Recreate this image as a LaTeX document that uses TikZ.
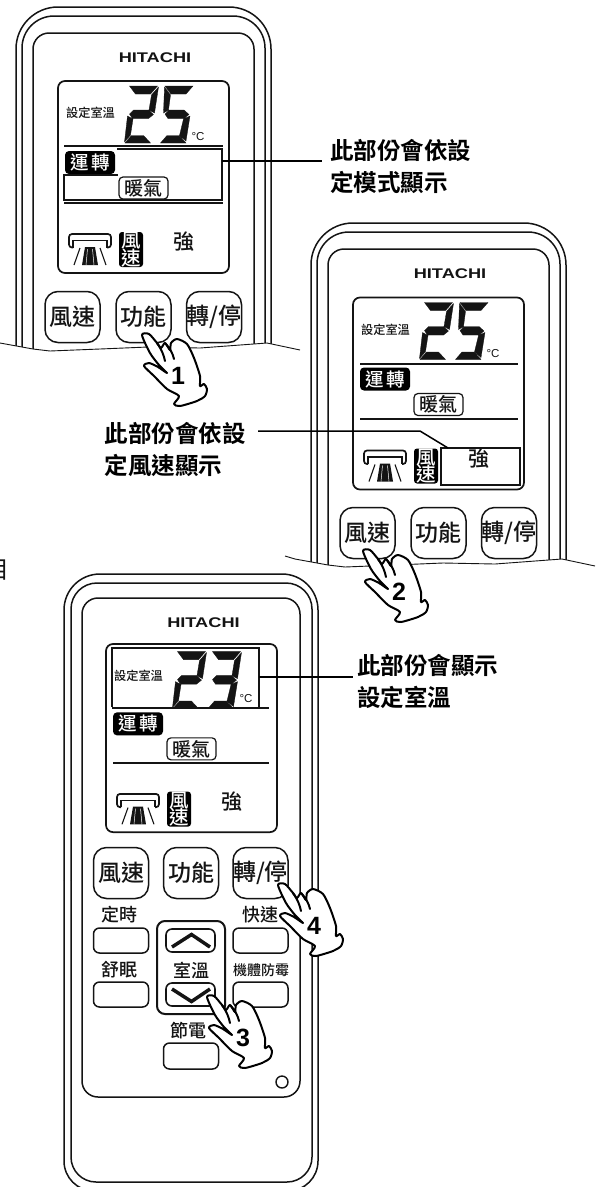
\documentclass[tikz,border=0pt]{standalone}
\usepackage{fontspec}
\usepackage{graphicx}
\setmainfont{Liberation Sans}
\newfontfamily\cjk{Noto Sans CJK TC Medium}
\newfontfamily\cjkr{Noto Sans CJK TC}
\newfontfamily\cjkb{Noto Sans CJK TC Bold}
\definecolor{ink}{HTML}{141414}
\newcommand\fs[1]{\fontsize{#1}{#1}\selectfont}
\newcommand\segA{(5,0)--(33,0)--(26,8)--(11,8)--cycle}
\newcommand\segB{(34,1)--(30,27)--(24.5,24)--(27,9)--cycle}
\newcommand\segC{(30,30)--(26,55)--(19.5,49.5)--(23.5,33)--cycle}
\newcommand\segD{(0.5,57)--(26,57)--(19,49.5)--(7,49.5)--cycle}
\newcommand\segE{(3,30)--(8.5,33)--(6,49)--(0,56)--cycle}
\newcommand\segF{(4.5,1)--(10.5,9)--(8.5,24)--(3.5,27)--cycle}
\newcommand\segG{(5,28)--(9,24)--(24,24)--(29,28.5)--(24,32.5)--(8,32.5)--cycle}
\tikzset{
  body/.style={draw=ink,line width=1.5},
  seven/.style={fill=ink,draw=ink,line width=.3},
  cjkt/.style={inner sep=0,text=ink,font=\cjk\fs{#1}},
  rev/.style={inner sep=0,text=white,font=\cjk\fs{#1}},
  key/.style={draw=ink,line width=1.5,rounded corners=13,minimum width=55,minimum height=51,inner sep=0,text=ink,font=\cjk\fs{23}},
  flat/.style={draw=ink,line width=1.5,rounded corners=6,minimum width=55,minimum height=25,inner sep=0},
  callout/.style={font=\cjkb\fontsize{23.5}{32}\selectfont,align=left,text=black},
  lead/.style={draw=black,line width=1.5},
}
% LCD contents: #1 name prefix, #2 shift x, #3 shift y, #4 yscale
\newcommand\lcd[4]{%
\begin{scope}[shift={(#2,#3)},yscale=#4]
  \draw[body,line width=1.7,rounded corners=7] (58,81) rectangle (229,273);
  \node[cjkt=12.2] (#1set) at (90.5,113) {設定室溫};
  \node[inner sep=0,font=\fs{11.5},text=ink] (#1deg) at (198,137) {°C};
  \node[rev=18.5,fill=black,rounded corners=4,minimum width=50,minimum height=23] (#1run) at (90,162.5) {運\hspace{3pt}轉};
  \node[cjkt=19,draw=ink,line width=1.2,rounded corners=4,minimum width=49,minimum height=22] (#1heat) at (143.5,188) {暖氣};
  \draw[line width=1.7,draw=ink,rounded corners=3] (73,247.5)--(69,247.5)--(69,234)--(111,234)--(111,247.5)--(107,247.5);
  \draw[line width=1.1,draw=ink] (73,247.5)--(73,240.5)--(107,240.5)--(107,247.5);
  \fill[ink] (85,247)--(95,247)--(98,265)--(82,265)--cycle;
  \draw[line width=1.1,draw=ink] (80,248)--(74,265) (100,248)--(106,265);
  \draw[line width=.5,draw=white] (87.5,249)--(86,265) (92.5,249)--(94,265);
  \node[fill=black,rounded corners=3,minimum width=24,minimum height=35,inner sep=0] (#1fan) at (131,249.5) {};
  \node[rev=19.5] (#1fanA) at (131,241) {風};
  \node[rev=19.5] (#1fanB) at (131,258) {速};
  \node[cjkt=21] (#1str) at (184,242) {強};
\end{scope}}
\newcommand\remoteTop[3]{%
\begin{scope}[shift={(#2,#3)}]
  \draw[body,rounded corners=42] (16,385)--(16,7)--(271,7)--(271,385);
  \draw[body,rounded corners=32] (22,385)--(22,16)--(265,16)--(265,385);
  \draw[body,rounded corners=16] (33,385)--(33,33)--(254,33)--(254,385);
  \node[inner sep=0,font=\bfseries\fs{14},text=ink] (#1logo) at (155,58) {\scalebox{1.3}[1]{HITACHI}};
  \node[key] (#1fan) at (72.5,317) {風速};
  \node[key] (#1func) at (143.5,317) {功能};
  \node[key] (#1run) at (214,317) {轉/停};
  \fill[white] (-10,340)--(0,343)--(33,349)--(50,351)--(100,349)--(148,347)--(200,348)--(267,343)--(300,350)--(300,386)--(-10,386)--cycle;
  \draw[line width=.9,draw=ink] (-10,340)--(0,343)--(33,349)--(50,351)--(100,349)--(148,347)--(200,348)--(267,343)--(300,350);
\end{scope}}
\newcommand\twofive[2]{%
\begin{scope}[shift={(#1,#2)}]\filldraw[seven] \segA \segB \segG \segE \segD;\end{scope}
\begin{scope}[shift={(#1+35.5,#2)}]\filldraw[seven] \segA \segF \segG \segC \segD;\end{scope}}
\newcommand\twothree[2]{%
\begin{scope}[shift={(#1,#2)}]\filldraw[seven] \segA \segB \segG \segE \segD;\end{scope}
\begin{scope}[shift={(#1+35,#2)}]\filldraw[seven] \segA \segB \segG \segC \segD;\end{scope}}
\newcommand\hand[4]{%
\begin{scope}[shift={(#2,#3)}]
  \draw[line width=2,draw=black,fill=white,line join=round] plot[smooth cycle,tension=.45] coordinates {
    (0,-1)(7,-2)(15,7)(19,12)(23,7)(28,14)(29,7)(35,3)(45,8)(52,22)(58,40)(58,50)(62,48)(65,53)(63,60)(55,65)(38,70)(32,68)(37,60)(25,53)(12,40)(2,30)(7,27)(16,31)(25,37)(17,29)(8,17)};
  \draw[line width=2,draw=black,line cap=round] (15,7)..controls (20,14) and (22,20)..(23,25) (23,7)..controls (28,12) and (31,18)..(32,23);
  \node[inner sep=0,font=\bfseries\fs{25},text=black] (#1) at (36,40) {#4};
\end{scope}}
\begin{document}
\begin{tikzpicture}[x=1pt,y=-1pt]
\useasboundingbox (0,0) rectangle (602,1187);
\fill[white] (0,0) rectangle (602,1187);
% stray clipped glyph
\node[inner sep=0,text=ink,font=\cjkr\fs{24}] (edge) at (-2,570) {目};

% ---------- remote 1
\remoteTop{a}{0}{0}
\lcd{a}{0}{0}{1}
\twofive{124.5}{86}
\draw[line width=1.8,draw=ink] (64,146)--(223,146) (64,203)--(223,203);
\draw[draw=ink,line width=1.3] (117,149)--(222,149)--(222,200)--(64,200)--(64,175)--(118,175);
\coordinate (boxa) at (222,161);
\node[callout,anchor=west,inner ysep=0,inner xsep=8] (laba) at (322,166) {此部份會依設\\定模式顯示};
\draw[lead] (boxa) -- (boxa -| laba.west);

% ---------- remote 2
\remoteTop{b}{295}{216}
\lcd{b}{295}{216.5}{1}
\begin{scope}[shift={(295,216.5)}]\twofive{124.5}{86}\end{scope}
\draw[line width=1.5,draw=ink] (360,364)--(518,364) (360,419)--(518,419);
\node[draw=ink,line width=1.3,minimum width=79,minimum height=37,inner sep=0] (boxb) at (480.5,466.5) {};
\node[callout,anchor=east,inner ysep=0,inner xsep=12] (labb) at (258,450) {此部份會依設\\定風速顯示};
\coordinate (bendb) at (420,431);
\draw[lead] (bendb -| labb.east) -- (bendb) -- (448,448);

% ---------- remote 3
\draw[body,rounded corners=36] (64,880)--(64,574)--(318,574)--(318,880);
\draw[body,rounded corners=30] (64,880)--(64,1191)--(318,1191)--(318,880);
\draw[body,rounded corners=26] (71,880)--(71,583)--(312,583)--(312,880);
\draw[body,rounded corners=25] (71,880)--(71,1182)--(312,1182)--(312,880);
\draw[body,rounded corners=16] (82,1097)--(82,598)--(300,598)--(300,1097)--cycle;
\node[inner sep=0,font=\bfseries\fs{14},text=ink] (clogo) at (203.5,623) {\scalebox{1.3}[1]{HITACHI}};
\lcd{c}{48}{564.6}{0.98}
\begin{scope}[shift={(48,564.6)}]\twothree{124.5}{87}\end{scope}
\draw[line width=1.3,draw=ink] (112,707)--(112,648)--(259,648)--(259,707);
\draw[line width=1.8,draw=ink] (112,708)--(269,708);
\draw[line width=1.5,draw=ink] (113,763)--(269,763);
\coordinate (boxc) at (259,677);
\node[callout,anchor=west,inner ysep=0,inner xsep=4] (labc) at (353,681) {此部份會顯示\\設定室溫};
\draw[lead] (boxc) -- (boxc -| labc.west);

\node[key] (cfan) at (121,873) {風速};
\node[key] (cfunc) at (191,873) {功能};
\node[key] (crun) at (260.5,873) {轉/停};
\node[cjkt=18] (ctimer) at (119,915) {定時};
\node[cjkt=18] (cfast) at (260,915) {快速};
\node[cjkt=18] (csleep) at (119,970) {舒眠};
\node[cjkt=18] (ctemp) at (191,970) {室溫};
\node[cjkt=14] (cmold) at (261,970) {機體防霉};
\node[cjkt=18] (csave) at (188,1031) {節電};
\node[flat] (ktimer) at (121,940.5) {};
\node[flat] (kfast) at (260.5,940.5) {};
\node[flat] (ksleep) at (121,994.5) {};
\node[flat] (kmold) at (260.5,994.5) {};
\node[flat,minimum height=26] (ksave) at (191,1056) {};
\node[draw=ink,line width=2,rounded corners=8,minimum width=68,minimum height=93,inner sep=0] (cframe) at (191,967.5) {};
\node[draw=ink,line width=1.6,rounded corners=6,minimum width=49,minimum height=23,inner sep=0] (kup) at (190.5,940.5) {};
\node[draw=ink,line width=1.6,rounded corners=6,minimum width=49,minimum height=23,inner sep=0] (kdown) at (190.5,994.5) {};
\draw[line width=3.5,draw=ink] (172,947)--(191.5,934.5)--(210,947);
\draw[line width=3.5,draw=ink] (172,989)--(191.5,1001.5)--(210,989);
\node[circle,draw=ink,line width=1.4,minimum size=12,inner sep=0] (cled) at (282,1082) {};

% ---------- hands
\hand{n1}{142}{336}{1}
\hand{n2}{363}{552}{2}
\hand{n3}{207}{998}{3}
\hand{n4}{278}{886}{4}
\end{tikzpicture}
\end{document}
